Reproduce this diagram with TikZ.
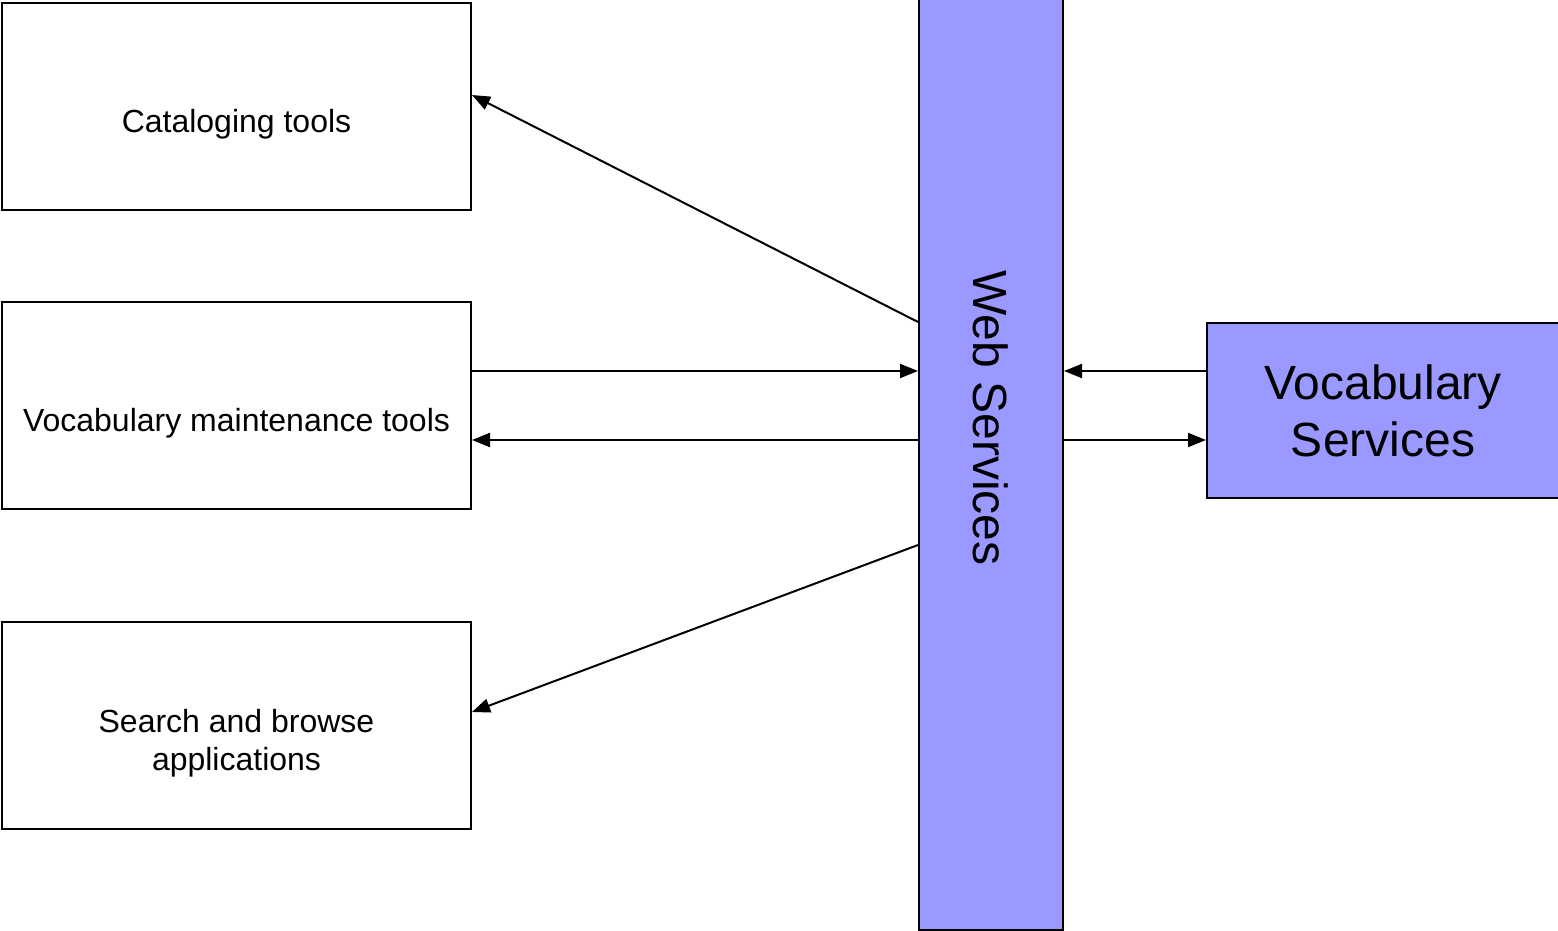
\documentclass[tikz,border=0pt]{standalone}
\usepackage{fontspec}
\setmainfont{Liberation Sans}
\usetikzlibrary{arrows.meta}

\definecolor{wsblue}{HTML}{9999FF}

\tikzset{
  toolbox/.style={draw=black, line width=1pt, inner sep=0pt,
    minimum width=234.5pt, minimum height=103.5pt},
  tooltext/.style={font=\fontsize{16}{19}\selectfont, align=center, yshift=-9pt},
  servbox/.style={draw=black, fill=wsblue, line width=1pt, inner sep=0pt},
  link/.style={line width=1pt, -{Triangle[length=9pt,width=7pt]}}
}

\begin{document}
\begin{tikzpicture}[x=0.5pt,y=-0.5pt]
\useasboundingbox (0,0) rectangle (1558,931);
\clip (0,0) rectangle (1558,931);

% tools on the left
\node[toolbox, label={[tooltext]center:Cataloging tools}] (cat) at (236.5,106.5) {};
\node[toolbox, label={[tooltext]center:Vocabulary maintenance tools}] (maint) at (236.5,405) {};
\node[toolbox, label={[tooltext]center:Search and browse\\applications}] (search) at (236.5,725.5) {};

% web services bar
\node[servbox, minimum width=72pt, minimum height=470pt] (ws) at (991,460) {};
\node[rotate=-90, font=\fontsize{24}{28}\selectfont] (wslabel) at ([yshift=21pt]ws.center) {Web Services};

% vocabulary services
\node[servbox, minimum width=176pt, minimum height=87.5pt, align=center,
  font=\fontsize{24}{28.5}\selectfont] (vs) at (1383,410.5) {Vocabulary\\Services};

% links
\draw[link] (ws.west |- 0,322) -- (cat.east |- 0,95);
\draw[link] (maint.east |- 0,371) -- (ws.west |- 0,371);
\draw[link] (ws.west |- 0,440) -- (maint.east |- 0,440);
\draw[link] (ws.west |- 0,545) -- (search.east |- 0,712);
\draw[link] (vs.west |- 0,371) -- (ws.east |- 0,371);
\draw[link] (ws.east |- 0,440) -- (vs.west |- 0,440);
\end{tikzpicture}
\end{document}
